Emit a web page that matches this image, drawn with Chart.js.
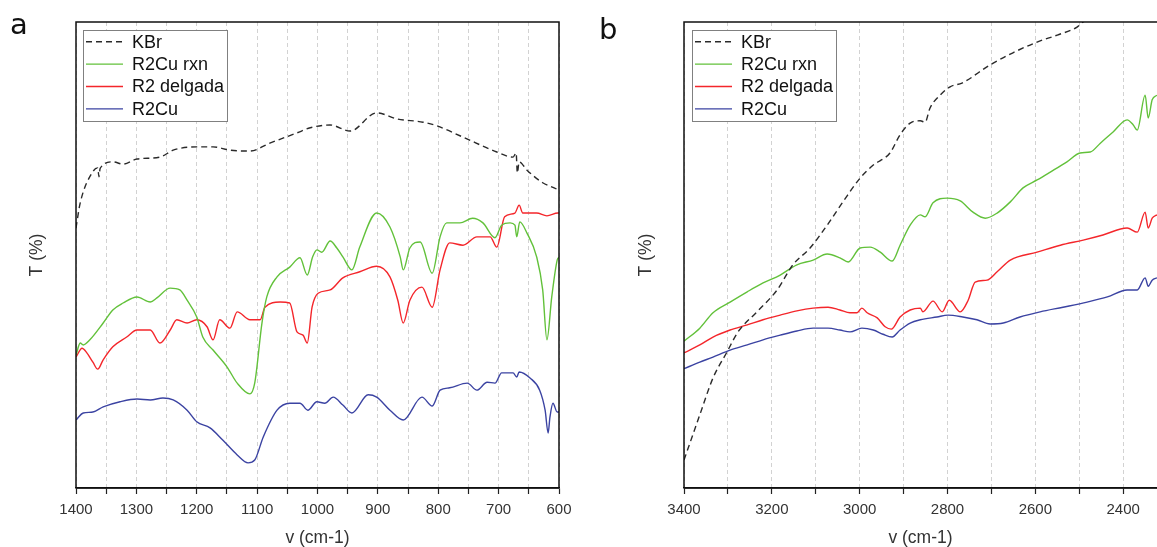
<!DOCTYPE html>
<html>
<head>
<meta charset="utf-8">
<script src="https://cdn.jsdelivr.net/npm/chart.js@4.4.1/dist/chart.umd.min.js"></script>
<style>
html,body{margin:0;padding:0;background:#fff;}
#wrap{position:relative;width:1157px;height:547px;overflow:hidden;background:#fff;}
#ca{position:absolute;left:0;top:0;}
#cb{position:absolute;left:580px;top:0;}
</style>
</head>
<body>
<div id="wrap">
<canvas id="ca" width="580" height="547"></canvas>
<canvas id="cb" width="577" height="547"></canvas>
</div>
<script>
// ---------- Panel a (1400-600 cm-1) ----------
const aKbrX = [1400,1393,1372,1364,1362,1360,1339,1322,1299,1261,1239,1200,1173,1145,1112,1079,1034,1012,979,946,902,868,825,802,759,703,676,671,669,666,653,627,602,600];
const aKbrY = [55.8,61.2,67.9,68.7,66.8,68.6,70.0,69.5,70.6,71.0,72.5,73.2,73.2,72.5,72.3,74.0,76.2,77.3,77.9,76.6,80.5,79.2,78.5,77.7,75.3,72.1,71.0,71.9,67.6,70.0,68.2,65.5,64.0,63.8];

const aRxnX = [1400,1393,1388,1377,1355,1339,1322,1299,1277,1266,1244,1228,1216,1200,1190,1173,1150,1133,1112,1104,1092,1084,1067,1046,1029,1017,1008,1001,993,979,968,958,943,930,902,880,863,858,847,830,810,797,786,764,743,726,706,695,681,673,670,665,653,637,627,620,612,603,600];
const aRxnY = [28.5,31.1,30.7,31.8,35.4,38.2,39.7,41.0,39.9,40.8,42.9,42.5,40.3,36.7,32.4,29.6,26.0,22.5,20.2,22.5,35.4,41.0,45.3,47.4,49.4,45.7,49.6,51.1,50.6,53.0,51.5,49.6,46.8,51.7,59.0,56.0,49.6,46.8,51.5,52.8,46.1,53.9,56.9,56.9,57.9,56.9,53.7,56.4,56.9,56.4,53.9,57.1,54.7,49.6,42.5,31.8,41.0,48.9,49.5];

const aDelX = [1400,1390,1382,1372,1364,1355,1339,1316,1299,1277,1261,1244,1233,1216,1200,1183,1173,1162,1145,1133,1112,1095,1087,1062,1046,1034,1024,1017,1009,999,979,958,930,902,880,867,858,847,827,810,797,781,759,736,714,703,690,673,666,660,637,620,602,600];
const aDelY = [28.1,30.0,29.0,27.0,25.5,27.5,30.3,32.4,33.9,33.9,31.1,33.9,36.1,35.4,36.1,34.6,31.8,36.1,34.3,37.8,36.1,36.1,38.8,39.9,39.7,33.5,32.8,31.1,38.8,41.8,42.5,45.1,46.4,47.6,45.3,40.3,35.4,40.3,43.1,38.8,46.8,52.6,52.1,53.9,53.9,51.7,58.2,59.0,60.7,59.0,59.0,58.4,59.0,59.0];

const aCuX = [1400,1388,1372,1355,1327,1299,1277,1256,1239,1216,1200,1178,1157,1133,1115,1104,1090,1067,1046,1029,1016,1001,988,974,958,943,916,902,880,858,827,810,797,781,752,736,719,706,695,676,670,666,648,632,623,618,615,610,603,600];
const aCuY = [14.6,16.1,16.3,17.4,18.5,19.1,18.9,19.3,18.9,16.7,14.2,12.9,10.3,7.1,5.4,6.0,10.9,16.7,18.2,18.2,16.7,18.5,18.2,19.5,17.8,16.1,20.0,19.5,16.7,14.6,19.5,17.6,21.0,21.5,22.5,21.0,22.7,22.5,24.7,24.7,23.8,24.9,23.6,21.0,16.7,11.8,15.2,18.2,16.3,16.3];

// ---------- Panel b (3400-2323 cm-1) ----------
const bKbrX = [3400,3364,3334,3302,3277,3234,3188,3152,3113,3074,3038,2999,2969,2931,2908,2885,2862,2851,2840,2817,2794,2767,2703,2651,2596,2550,2505,2491,2440,2380,2368,2355,2323];
const bKbrY = [6.0,15.7,23.6,29.2,33.5,37.8,42.5,47.9,51.5,56.4,61.4,66.5,69.3,71.9,75.8,78.3,78.8,78.5,81.5,84.3,86.1,86.9,90.8,93.4,95.7,97.2,98.9,100.0,102.5,101.5,100.2,102,104];

const bRxnX = [3400,3364,3334,3295,3256,3220,3181,3143,3106,3074,3045,3026,2999,2976,2953,2926,2908,2885,2862,2851,2833,2801,2771,2742,2714,2687,2657,2628,2596,2566,2528,2498,2475,2452,2423,2391,2377,2368,2350,2343,2334,2323];
const bRxnY = [31.5,34.3,37.6,39.9,42.1,44.0,45.7,47.9,48.9,50.2,49.4,48.5,51.5,51.7,50.6,48.7,52.1,56.4,58.6,58.2,61.2,62.2,61.6,59.2,57.9,59.0,61.4,64.4,66.1,67.8,70.0,71.9,72.1,74.0,76.4,79.0,77.9,76.8,84.3,79.4,83.3,84.3];

const bDelX = [3400,3364,3334,3295,3256,3220,3181,3143,3106,3072,3045,3022,3006,2995,2983,2960,2942,2928,2908,2885,2862,2856,2833,2812,2796,2771,2753,2737,2710,2687,2657,2596,2543,2491,2446,2391,2368,2350,2343,2334,2323];
const bDelY = [29.0,30.7,32.4,33.9,35.0,36.1,37.1,38.0,38.6,38.8,38.2,37.6,37.6,38.6,37.6,36.5,34.6,34.1,36.7,38.2,38.6,37.8,40.1,37.8,40.3,37.8,40.3,44.2,44.6,46.4,48.9,50.6,52.1,53.2,54.3,55.8,54.9,59.2,55.8,57.9,58.6];

const bCuX = [3400,3364,3334,3295,3256,3220,3181,3143,3106,3072,3045,3022,2995,2969,2947,2926,2908,2885,2862,2824,2799,2765,2733,2703,2673,2635,2589,2537,2482,2436,2391,2368,2350,2343,2334,2323];
const bCuY = [25.6,27.0,28.1,29.6,30.7,31.8,32.8,33.7,34.3,34.3,33.9,33.5,34.3,33.9,33.0,32.4,33.9,35.4,36.1,36.7,37.1,36.7,36.1,35.2,35.4,36.7,37.8,38.8,39.9,41.0,42.5,42.5,45.1,43.3,44.6,45.1];

const seriesLabels = ['KBr','R2Cu rxn','R2 delgada','R2Cu'];
const xTitle = 'v (cm-1)';
const yTitle = 'T (%)';

const FONT = '"Liberation Sans", Arial, sans-serif';
const pts = (xs, ys) => xs.map((x, i) => ({x: x, y: ys[i]}));

function makeDatasets(kx, ky, gx, gy, rx, ry, bx, by) {
  return [
    {label: seriesLabels[0], data: pts(kx, ky), borderColor: '#2a2a2a', borderDash: [6, 4], borderWidth: 1.4},
    {label: seriesLabels[1], data: pts(gx, gy), borderColor: '#62c13a', borderWidth: 1.4},
    {label: seriesLabels[2], data: pts(rx, ry), borderColor: '#f4262b', borderWidth: 1.4},
    {label: seriesLabels[3], data: pts(bx, by), borderColor: '#3b43a2', borderWidth: 1.4}
  ];
}

const decor = {
  id: 'decor',
  afterDraw(chart, args, o) {
    const ctx = chart.ctx, ca = chart.chartArea;
    ctx.save();
    ctx.strokeStyle = '#111';
    ctx.lineWidth = 1.5;
    ctx.setLineDash([]);
    ctx.beginPath();
    ctx.moveTo(ca.left, ca.bottom);
    ctx.lineTo(ca.left, ca.top);
    ctx.lineTo(ca.right, ca.top);
    if (o.right) ctx.lineTo(ca.right, ca.bottom);
    ctx.stroke();
    ctx.beginPath();
    ctx.moveTo(ca.left, ca.bottom);
    ctx.lineTo(ca.right, ca.bottom);
    ctx.stroke();
    ctx.fillStyle = '#111';
    ctx.font = '29px "DejaVu Sans", sans-serif';
    ctx.textAlign = 'left';
    ctx.textBaseline = 'alphabetic';
    ctx.fillText(o.letter, o.letterX, o.letterY);
    ctx.save();
    ctx.fillStyle = '#333';
    ctx.font = '17.5px ' + FONT;
    ctx.translate(o.yTitleX, (ca.top + ca.bottom) / 2);
    ctx.rotate(-Math.PI / 2);
    ctx.textAlign = 'center';
    ctx.textBaseline = 'middle';
    ctx.fillText(yTitle, 0, 0);
    ctx.restore();
    const bx = o.legX, by = o.legY, bw = 144, bh = 91;
    ctx.fillStyle = '#fff';
    ctx.fillRect(bx, by, bw, bh);
    ctx.strokeStyle = '#808080';
    ctx.lineWidth = 1;
    ctx.strokeRect(bx + 0.5, by + 0.5, bw, bh);
    chart.data.datasets.forEach((d, i) => {
      const cy = by + 11.7 + i * 22.4;
      ctx.beginPath();
      ctx.setLineDash(d.borderDash || []);
      ctx.strokeStyle = d.borderColor;
      ctx.lineWidth = 1.4;
      ctx.moveTo(bx + 3, cy);
      ctx.lineTo(bx + 40, cy);
      ctx.stroke();
      ctx.setLineDash([]);
      ctx.fillStyle = '#111';
      ctx.font = '18px ' + FONT;
      ctx.textAlign = 'left';
      ctx.textBaseline = 'middle';
      ctx.fillText(d.label, bx + 49, cy + 1);
    });
    ctx.restore();
  }
};

function makeOptions(cfg) {
  return {
    responsive: false,
    animation: false,
    devicePixelRatio: 1,
    layout: {padding: {left: cfg.left, right: cfg.right, top: 22, bottom: 0}},
    elements: {point: {radius: 0}, line: {cubicInterpolationMode: 'monotone', borderWidth: 1.4}},
    plugins: {legend: {display: false}, tooltip: {enabled: false}, decor: cfg.decor},
    scales: {
      x: {
        type: 'linear', reverse: true, min: cfg.min, max: cfg.max,
        afterFit: (s) => { s.height = 59; },
        afterBuildTicks: (s) => { s.ticks = s.ticks.filter(t => Math.round(t.value) % cfg.step === 0); },
        ticks: {
          stepSize: cfg.step, autoSkip: false, maxRotation: 0, minRotation: 0, includeBounds: false,
          padding: 7, color: '#333', font: {family: FONT, size: 15},
          callback: (v) => (Math.round(v) % cfg.labelStep === 0 ? String(Math.round(v)) : '')
        },
        grid: {color: '#d2d2d2', lineWidth: 1, tickLength: 6, tickColor: '#222', tickWidth: 1.2, drawOnChartArea: true},
        border: {display: true, color: '#111', width: 1.5, dash: [4, 3]},
        title: {display: true, text: xTitle, color: '#333', font: {family: FONT, size: 17.5, lineHeight: 1}, padding: {top: 0, bottom: 0}}
      },
      y: {display: false, min: 0, max: 100}
    }
  };
}

new Chart(document.getElementById('ca'), {
  type: 'line',
  data: {datasets: makeDatasets(aKbrX, aKbrY, aRxnX, aRxnY, aDelX, aDelY, aCuX, aCuY)},
  options: makeOptions({left: 76, right: 21, min: 600, max: 1400, step: 50, labelStep: 100,
    decor: {letter: 'a', letterX: 10, letterY: 34, yTitleX: 37, right: true, legX: 83, legY: 30}}),
  plugins: [decor]
});

new Chart(document.getElementById('cb'), {
  type: 'line',
  data: {datasets: makeDatasets(bKbrX, bKbrY, bRxnX, bRxnY, bDelX, bDelY, bCuX, bCuY)},
  options: makeOptions({left: 104, right: 0, min: 2323, max: 3400, step: 100, labelStep: 200,
    decor: {letter: 'b', letterX: 19, letterY: 39, yTitleX: 66, right: false, legX: 112, legY: 30}}),
  plugins: [decor]
});
</script>
</body>
</html>
